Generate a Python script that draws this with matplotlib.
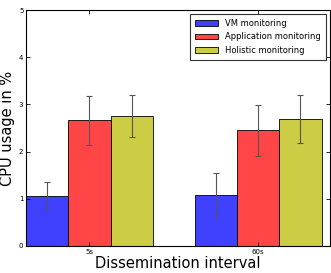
import numpy as np
import matplotlib
matplotlib.use('Agg')
import matplotlib.pyplot as plt

# Данные
intervals = ['5s', '60s']
series = ['VM monitoring', 'Application monitoring', 'Holistic monitoring']
vm_mean = [1.05, 1.08]
vm_err = [0.30, 0.47]
app_mean = [2.66, 2.45]
app_err = [0.52, 0.54]
hol_mean = [2.75, 2.69]
hol_err = [0.44, 0.50]

colors = [(0.25, 0.25, 1.0), (1.0, 0.27, 0.27), (0.8, 0.8, 0.27)]

fig = plt.figure(figsize=(3.31, 2.73), dpi=100)
ax = fig.add_axes([0.079, 0.099, 0.918, 0.864])

ind = np.arange(len(intervals))
w = 0.25
means = [vm_mean, app_mean, hol_mean]
errs = [vm_err, app_err, hol_err]
for k in range(3):
    ax.bar(ind + (k - 1) * w, means[k], w, yerr=errs[k], color=colors[k],
           edgecolor='black', linewidth=0.6, label=series[k],
           error_kw=dict(ecolor='#555555', elinewidth=0.8, capsize=2.5, capthick=0.8))

ax.set_xlim(-0.375, 1.425)
ax.set_ylim(0, 5)
ax.set_xticks(ind)
ax.set_xticklabels(intervals)
ax.set_yticks([0, 1, 2, 3, 4, 5])
ax.tick_params(direction='in', labelsize=5, top=True, right=True, length=3, width=0.6, pad=2)
for s in ax.spines.values():
    s.set_linewidth(0.8)
ax.set_xlabel('Dissemination interval', fontsize=10.5, labelpad=1)
ax.set_ylabel('CPU usage in %', fontsize=10.5, labelpad=3)

leg = ax.legend(loc='upper right', fontsize=6, fancybox=False, edgecolor='black',
                handlelength=2.8, borderpad=0.6, labelspacing=0.5)
leg.get_frame().set_linewidth(0.8)

plt.savefig('out.png', dpi=100)
